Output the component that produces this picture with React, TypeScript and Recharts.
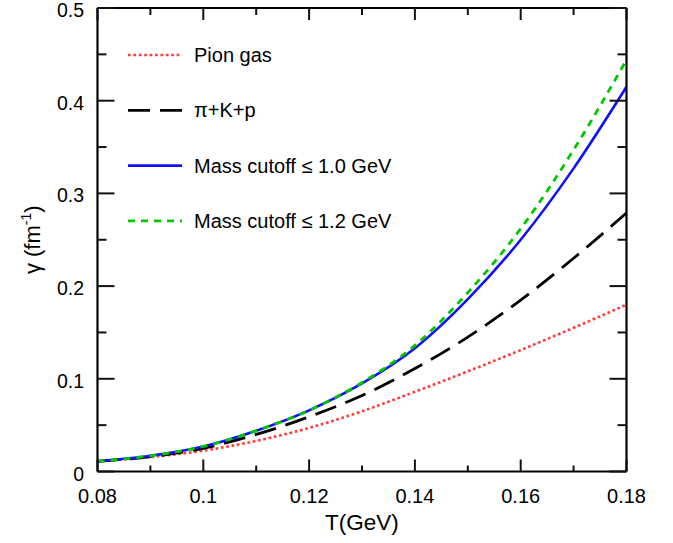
import React from 'react';
import { LineChart, Line, XAxis, YAxis, Legend, Label } from 'recharts';

const T = [0.08, 0.09, 0.10, 0.11, 0.12, 0.13, 0.14, 0.15, 0.16, 0.17, 0.18];
const pionGas = [0.011, 0.0155, 0.0225, 0.033, 0.047, 0.065, 0.086, 0.108, 0.131, 0.155, 0.180];
const piKp = [0.011, 0.016, 0.025, 0.040, 0.059, 0.082, 0.111, 0.145, 0.185, 0.230, 0.279];
const cutoff10 = [0.011, 0.017, 0.027, 0.044, 0.066, 0.095, 0.133, 0.186, 0.250, 0.327, 0.415];
const cutoff12 = [0.011, 0.017, 0.027, 0.044, 0.066, 0.096, 0.136, 0.193, 0.262, 0.347, 0.444];

const seriesKeys = ['pion', 'pikp', 'c10', 'c12'];
const seriesNames = ['Pion gas', 'π+K+p', 'Mass cutoff ≤ 1.0 GeV', 'Mass cutoff ≤ 1.2 GeV'];

const xTicks = [0.08, 0.09, 0.10, 0.11, 0.12, 0.13, 0.14, 0.15, 0.16, 0.17, 0.18];
const xMajor = [0.08, 0.10, 0.12, 0.14, 0.16, 0.18];
const xTickLabels = ['0.08', '0.1', '0.12', '0.14', '0.16', '0.18'];
const yTicks = [0, 0.05, 0.1, 0.15, 0.2, 0.25, 0.3, 0.35, 0.4, 0.45, 0.5];
const yMajor = [0, 0.1, 0.2, 0.3, 0.4, 0.5];
const yTickLabels = ['0', '0.1', '0.2', '0.3', '0.4', '0.5'];

const data = T.map((t, i) => ({
  T: t,
  pion: pionGas[i],
  pikp: piKp[i],
  c10: cutoff10[i],
  c12: cutoff12[i],
}));

const FONT = '"Liberation Sans", Arial, Helvetica, sans-serif';

const styles: Record<string, { stroke: string; width: number; dash?: string }> = {
  pion: { stroke: '#ff3b3b', width: 2.6, dash: '2.7 2.7' },
  pikp: { stroke: '#000000', width: 2.8, dash: '22 10' },
  c10: { stroke: '#1010ff', width: 2.6 },
  c12: { stroke: '#00c800', width: 2.8, dash: '7 6' },
};

const TICK_COLOR = '#111111';
const TICK_W = 2;

const majorIndex = (v: number, majors: number[]) =>
  majors.findIndex((m) => Math.abs(m - v) < 1e-9);

const BottomTick = (props: any) => {
  const { x, y, payload } = props;
  const idx = majorIndex(payload.value, xMajor);
  const len = idx >= 0 ? 12 : 6;
  return (
    <g>
      <path d={`M${x},${y}L${x},${y - len}`} stroke={TICK_COLOR} strokeWidth={TICK_W} fill="none" />
      {idx >= 0 && (
        <text x={x} y={y + 31} textAnchor="middle" fontSize={20} fontFamily={FONT} fill="#000">
          {xTickLabels[idx]}
        </text>
      )}
    </g>
  );
};

const TopTick = (props: any) => {
  const { x, y, payload } = props;
  const idx = majorIndex(payload.value, xMajor);
  const len = idx >= 0 ? 12 : 7;
  return <path d={`M${x},${y}L${x},${y + len}`} stroke={TICK_COLOR} strokeWidth={TICK_W} fill="none" />;
};

const LeftTick = (props: any) => {
  const { x, y, payload } = props;
  const idx = majorIndex(payload.value, yMajor);
  const len = idx >= 0 ? 17 : 9;
  return (
    <g>
      <path d={`M${x},${y}L${x + len},${y}`} stroke={TICK_COLOR} strokeWidth={TICK_W} fill="none" />
      {idx >= 0 && (
        <text x={x - 13.5} y={y + 9} textAnchor="end" fontSize={19.5} fontFamily={FONT} fill="#000">
          {yTickLabels[idx]}
        </text>
      )}
    </g>
  );
};

const RightTick = (props: any) => {
  const { x, y, payload } = props;
  const idx = majorIndex(payload.value, yMajor);
  const len = idx >= 0 ? 17 : 9;
  return <path d={`M${x},${y}L${x - len},${y}`} stroke={TICK_COLOR} strokeWidth={TICK_W} fill="none" />;
};

const YTitle = (props: any) => {
  const vb = props.viewBox || { x: 0, y: 0, width: 0, height: 0 };
  const cy = vb.y + vb.height / 2;
  const cx = 40;
  return (
    <text
      x={cx}
      y={cy}
      transform={`rotate(-90, ${cx}, ${cy})`}
      textAnchor="middle"
      fontSize={22}
      fontFamily={FONT}
      fill="#000"
    >
      <tspan>γ (fm</tspan>
      <tspan fontSize={14} dy={-9}>-1</tspan>
      <tspan dy={9}>)</tspan>
    </text>
  );
};

const XTitle = (props: any) => {
  const vb = props.viewBox || { x: 0, y: 0, width: 0, height: 0 };
  const cx = vb.x + vb.width / 2;
  return (
    <text x={cx} y={530} textAnchor="middle" fontSize={22.5} fontFamily={FONT} fill="#000">
      T(GeV)
    </text>
  );
};

const renderLegend = (props: any) => {
  const payload = props.payload || [];
  const rowGap = 55.3;
  return (
    <svg width={320} height={230} style={{ display: 'block' }}>
      {seriesKeys.map((key, i) => {
        const s = styles[key];
        const entry = payload.find((p: any) => p.dataKey === key);
        const label = entry ? entry.value : seriesNames[i];
        const yy = 25 + i * rowGap;
        return (
          <g key={key}>
            <line
              x1={8}
              x2={62}
              y1={yy}
              y2={yy}
              stroke={s.stroke}
              strokeWidth={s.width}
              strokeDasharray={s.dash}
            />
            <text x={74} y={yy + 7} fontSize={20} fontFamily={FONT} fill="#000">
              {label}
            </text>
          </g>
        );
      })}
    </svg>
  );
};

export default function App() {
  return (
    <div style={{ position: 'absolute', left: 0, top: 0, width: 673, height: 543, background: '#fff' }}>
      <LineChart
        width={673}
        height={543}
        data={data}
        margin={{ top: 7, right: 45.5, bottom: 31.5, left: 37.5 }}
      >
        <XAxis
          xAxisId={0}
          dataKey="T"
          type="number"
          domain={[0.08, 0.18]}
          ticks={xTicks}
          interval={0}
          allowDataOverflow
          orientation="bottom"
          height={40}
          tickSize={0}
          tickMargin={0}
          tickLine={false}
          axisLine={{ stroke: '#000', strokeWidth: 2.2 }}
          tick={<BottomTick />}
        >
          <Label content={<XTitle />} />
        </XAxis>
        <XAxis
          xAxisId="top"
          dataKey="T"
          type="number"
          domain={[0.08, 0.18]}
          ticks={xTicks}
          interval={0}
          allowDataOverflow
          orientation="top"
          height={1}
          tickSize={0}
          tickMargin={0}
          tickLine={false}
          axisLine={{ stroke: '#000', strokeWidth: 2.2 }}
          tick={<TopTick />}
        />
        <YAxis
          yAxisId={0}
          type="number"
          domain={[0, 0.5]}
          ticks={yTicks}
          interval={0}
          allowDataOverflow
          orientation="left"
          width={60}
          tickSize={0}
          tickMargin={0}
          tickLine={false}
          axisLine={{ stroke: '#000', strokeWidth: 2.2 }}
          tick={<LeftTick />}
        >
          <Label content={<YTitle />} />
        </YAxis>
        <YAxis
          yAxisId="right"
          type="number"
          domain={[0, 0.5]}
          ticks={yTicks}
          interval={0}
          allowDataOverflow
          orientation="right"
          width={1}
          tickSize={0}
          tickMargin={0}
          tickLine={false}
          axisLine={{ stroke: '#000', strokeWidth: 2.2 }}
          tick={<RightTick />}
        />
        <Legend
          layout="vertical"
          align="center"
          verticalAlign="middle"
          content={renderLegend}
          wrapperStyle={{ position: 'absolute', left: 120, top: 30, width: 320, height: 230 }}
        />
        <Line
          type="monotone"
          dataKey="pion"
          name={seriesNames[0]}
          stroke={styles.pion.stroke}
          strokeWidth={styles.pion.width}
          strokeDasharray={styles.pion.dash}
          dot={false}
          isAnimationActive={false}
        />
        <Line
          type="monotone"
          dataKey="pikp"
          name={seriesNames[1]}
          stroke={styles.pikp.stroke}
          strokeWidth={styles.pikp.width}
          strokeDasharray={styles.pikp.dash}
          dot={false}
          isAnimationActive={false}
        />
        <Line
          type="monotone"
          dataKey="c10"
          name={seriesNames[2]}
          stroke={styles.c10.stroke}
          strokeWidth={styles.c10.width}
          dot={false}
          isAnimationActive={false}
        />
        <Line
          type="monotone"
          dataKey="c12"
          name={seriesNames[3]}
          stroke={styles.c12.stroke}
          strokeWidth={styles.c12.width}
          strokeDasharray={styles.c12.dash}
          dot={false}
          isAnimationActive={false}
        />
      </LineChart>
    </div>
  );
}
